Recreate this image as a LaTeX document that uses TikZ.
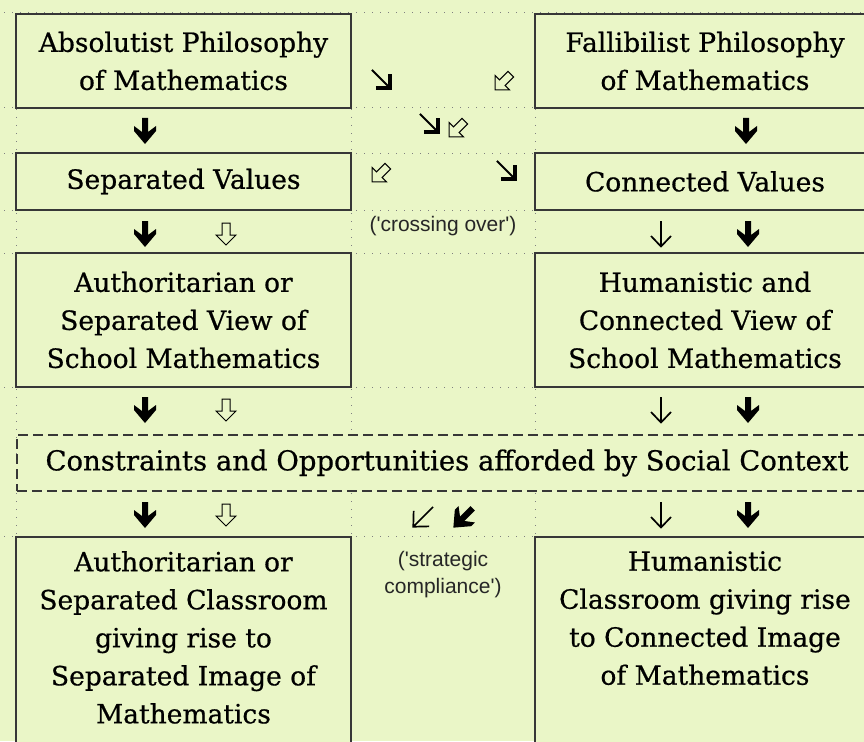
\documentclass[tikz,border=0pt]{standalone}
\usepackage{fontspec}
\setmainfont{DejaVu Serif}
\newfontfamily\boxfont{DejaVu Serif}[FakeBold=0.6]
\newfontfamily\notefont{Liberation Sans}
\definecolor{paper}{RGB}{234,246,199}
\definecolor{rule}{RGB}{55,55,55}

% arrow glyphs, all pointing down, y grows downwards
\tikzset{
heavydown/.pic={\fill[black] (-3,-13) -- (3,-13) -- (3,1) -- (11,-5) -- (11,0) -- (0,13) -- (-11,0) -- (-11,-5) -- (-3,1) -- cycle;},
hollowdown/.pic={\filldraw[fill=paper,draw=black,line width=1pt] (-4,-11) -- (4,-11) -- (4,1) -- (10,1) -- (0,11) -- (-10,1) -- (-4,1) -- cycle;},
thindown/.pic={\draw[line width=1.7pt] (0,-13) -- (0,12) (-10,2) -- (0,12.5) -- (10,2);},
meddown/.pic={\draw[line width=2pt] (0,-13) -- (0,9); \draw[line width=3.5pt] (-9,1) -- (0,10) -- (9,1);}
}

\begin{document}
\begin{tikzpicture}[x=1pt,y=-1pt,
box/.style={draw=rule,line width=1.6pt,fill=paper,align=center,inner sep=0pt,font=\boxfont\fontsize{26.5}{38}\selectfont},
boxtext/.style={align=center,inner sep=0pt,font=\boxfont\fontsize{26.5}{38}\selectfont},
context/.style={draw=rule,line width=1.6pt,dash pattern=on 10pt off 5pt,fill=paper,inner sep=0pt},
grid/.style={draw=gray,line width=1pt,dash pattern=on 1pt off 7pt},
note/.style={align=center,inner sep=0pt,text=black!85,font=\notefont\fontsize{21}{27}\selectfont}]

\useasboundingbox (0,0) rectangle (864,741);
\clip (0,0) rectangle (864,741);
\fill[paper] (0,0) rectangle (864,741);

% dotted cell borders
\foreach \x in {16,351,535} \draw[grid] (\x,13) -- (\x,741);
\foreach \y in {13,108,153,210,253,387,536} \draw[grid] (4,\y) -- (864,\y);

% left column
\node[box,minimum width=335pt,minimum height=94pt] (absolutist) at (183.5,61) {Absolutist Philosophy\\of Mathematics};
\node[box,minimum width=335pt,minimum height=57pt] (sepvalues) at (183.5,181.5) {Separated Values};
\node[box,minimum width=335pt,minimum height=134pt] (authview) at (183.5,320) {Authoritarian or\\Separated View of\\School Mathematics};
\node[box,minimum width=335pt,minimum height=230pt,anchor=north] (authclass) at (183.5,536) {};
\node[boxtext,anchor=north] (authclasstext) at (183.5,551) {Authoritarian or\\Separated Classroom\\giving rise to\\Separated Image of\\Mathematics};

% right column
\node[box,minimum width=340pt,minimum height=94pt] (fallibilist) at (705,61) {Fallibilist Philosophy\\of Mathematics};
\node[box,minimum width=340pt,minimum height=57pt] (convalues) at (705,181.5) {Connected Values};
\node[box,minimum width=340pt,minimum height=134pt] (humview) at (705,320) {Humanistic and\\Connected View of\\School Mathematics};
\node[box,minimum width=340pt,minimum height=230pt,anchor=north] (humclass) at (705,536) {};
\node[boxtext,anchor=north] (humclasstext) at (705,551) {Humanistic\\Classroom giving rise\\to Connected Image\\of Mathematics};

% social context across both columns
\node[context,minimum width=870pt,minimum height=56pt,anchor=west] (socialctx) at (16,463) {};
\node[boxtext,font=\boxfont\fontsize{27.5}{38}\selectfont] (socialtext) at (447,463) {Constraints and Opportunities afforded by Social Context};

% middle column notes
\node[note] (crossing) at (443,226) {(\textquotesingle crossing over\textquotesingle)};
\node[note] (strategic) at (443,575) {(\textquotesingle strategic\\compliance\textquotesingle)};

% arrows between the rows
\pic at (145,131) {heavydown};
\pic at (746,131) {heavydown};
\foreach \y in {234,410,515} {
  \pic at (145,\y) {heavydown};
  \pic at (226,\y) {hollowdown};
  \pic at (661,\y) {thindown};
  \pic at (748,\y) {heavydown};
}

% crossing arrows in the middle column
\pic[rotate=45,scale=1.1] at (382,80) {meddown};
\pic[rotate=-45,scale=1.0] at (503,82) {hollowdown};
\pic[rotate=45,scale=1.1] at (430,124) {meddown};
\pic[rotate=-45,scale=1.0] at (457,129) {hollowdown};
\pic[rotate=-45,scale=1.0] at (380,174) {hollowdown};
\pic[rotate=45,scale=1.1] at (507,171) {meddown};
\pic[rotate=-45,scale=1.1] at (423,517) {thindown};
\pic[rotate=-45,scale=1.05] at (463,518) {heavydown};

\end{tikzpicture}
\end{document}
